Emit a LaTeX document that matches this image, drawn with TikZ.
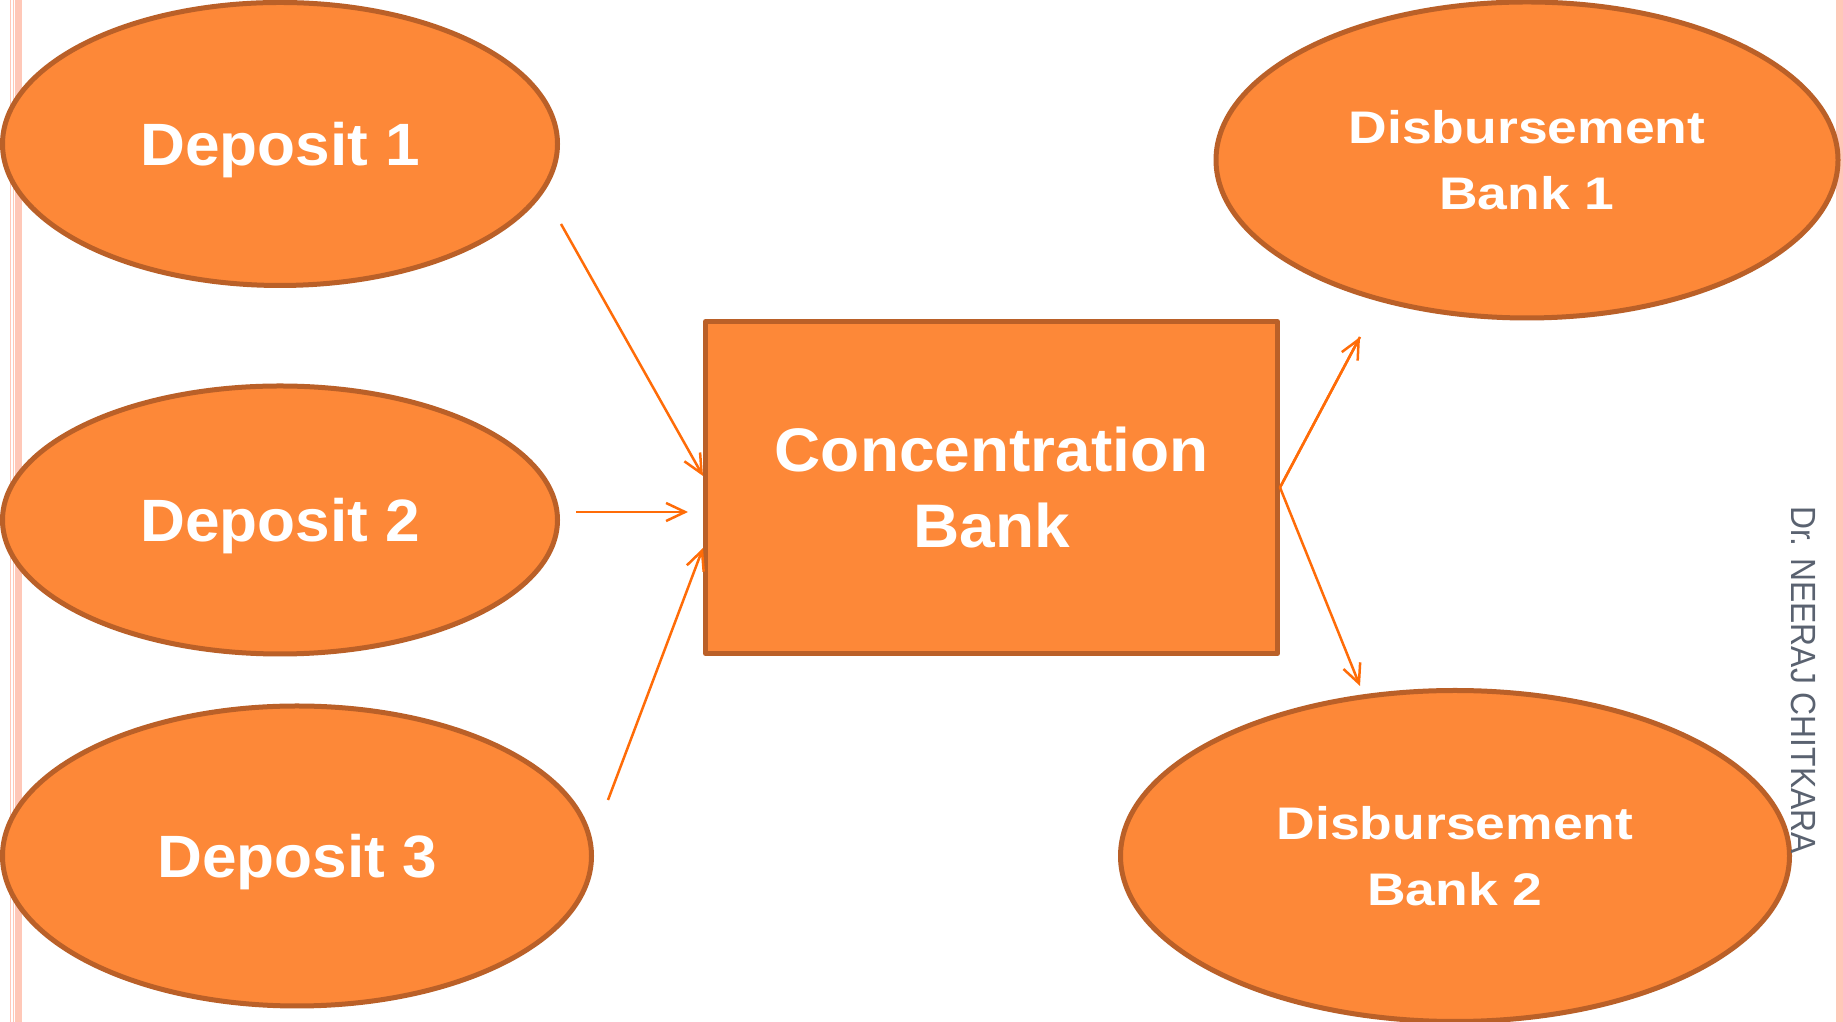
\documentclass[tikz,border=0pt]{standalone}
\usepackage{fontspec}
\setmainfont{Liberation Sans}
\newfontfamily\widesans[FakeStretch=1.17]{Liberation Sans}
\newfontfamily\banksans[FakeStretch=1.04]{Liberation Sans}
\usetikzlibrary{shapes.geometric,arrows.meta}

\definecolor{blobfill}{RGB}{253,136,56}
\definecolor{blobline}{RGB}{186,96,40}
\definecolor{flowline}{RGB}{255,108,8}
\definecolor{sideband}{RGB}{255,200,184}
\definecolor{markgray}{RGB}{90,98,112}

\begin{document}
\begin{tikzpicture}[
    blob/.style={ellipse, draw=blobline, fill=blobfill, line width=0.1cm, inner sep=0pt, text depth=0pt, text=white, font=\banksans\fontsize{34}{40}\selectfont\bfseries},
    payout/.style={blob, align=center, font=\widesans\fontsize{26}{37.5}\selectfont\bfseries},
    bank/.style={blob, rectangle, line join=round, align=center, font=\banksans\fontsize{35}{43}\selectfont\bfseries},
    flow/.style={-{Straight Barb[length=0.38cm,width=0.36cm]}, flowline, line width=0.05cm}
]

\useasboundingbox (0,0) rectangle (36.86,20.44);
\fill[white] (0,0) rectangle (36.86,20.44);

% Side bands
\fill[sideband] (0.20,0) rectangle (0.22,20.44);
\fill[sideband] (0.25,0) rectangle (0.27,20.44);
\fill[sideband] (0.30,0) rectangle (0.44,20.44);
\fill[sideband] (36.72,0) rectangle (36.86,20.44);

% Deposits
\node[blob, minimum width=11.1cm, minimum height=5.66cm] (dep1) at (5.6,17.56) {Deposit 1};
\node[blob, minimum width=11.1cm, minimum height=5.36cm] (dep2) at (5.6,10.04) {Deposit 2};
\node[blob, minimum width=11.78cm, minimum height=6.0cm] (dep3) at (5.94,3.32) {Deposit 3};

% Concentration bank
\node[bank, minimum width=11.44cm, minimum height=6.64cm] (conc) at (19.83,10.69) {Concentration\\Bank};

% Disbursement banks
\node[payout, minimum width=12.44cm, minimum height=6.32cm] (disb1) at (30.54,17.24) {Disbursement\\Bank 1};
\node[payout, minimum width=13.38cm, minimum height=6.62cm] (disb2) at (29.1,3.32) {Disbursement\\Bank 2};

% Free ends of the arrows
\coordinate (from1) at (11.22,15.96);
\coordinate (from2) at (11.52,10.20);
\coordinate (to2)   at (13.76,10.20);
\coordinate (from3) at (12.16,4.44);
\coordinate (to4)   at (27.20,13.70);
\coordinate (to5)   at (27.20,6.72);

% Arrows
\draw[flow] (from1) -- ([yshift=0.23cm]conc.west);
\draw[flow] (from2) -- (to2);
\draw[flow] (from3) -- ([yshift=-1.21cm]conc.west);
\draw[flow, line join=round] (to4) -- (conc.east) -- (to5);
\draw[flow] (conc.east) -- (to4);

% Watermark
\node[rotate=-90, xscale=0.91, text=markgray, text depth=0pt, font=\fontsize{19.9}{22}\selectfont] (mark) at (36.07,6.84) {Dr. NEERAJ CHITKARA};

\end{tikzpicture}
\end{document}
